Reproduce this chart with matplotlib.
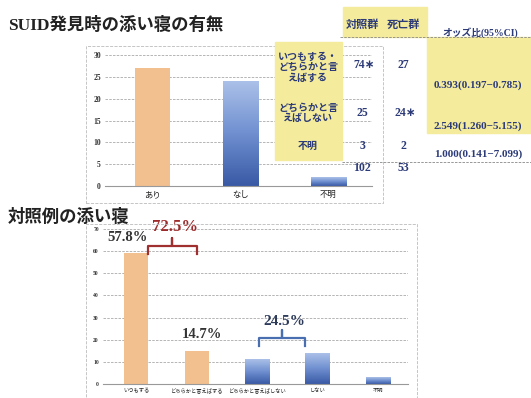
import numpy as np
import matplotlib
matplotlib.use("Agg")
import matplotlib.pyplot as plt
from matplotlib.patches import Rectangle
from matplotlib.colors import LinearSegmentedColormap

# Upper chart: bed sharing when the SUID case was found
presenceLabels = ["あり", "なし", "不明"]
presenceCounts = [27, 24, 2]

# Lower chart: bed sharing habit in the control group
habitLabels = ["いつもする", "どちらかと言えばする", "どちらかと言えばしない", "しない", "不明"]
habitCounts = [59, 15, 11, 14, 3]

# Table beside the upper chart
tableRows = ["いつもする・\nどちらかと言\nえばする", "どちらかと言\nえばしない", "不明"]
controlCounts = [74, 25, 3]
deathCounts = [27, 24, 2]
controlStar = [True, False, False]
deathStar = [False, True, False]
oddsRatios = ["0.393(0.197−0.785)", "2.549(1.260−5.155)", "1.000(0.141−7.099)"]

W, H = 531, 398
SERIF = ["Liberation Serif", "Noto Sans CJK JP", "DejaVu Sans"]
JP = ["Noto Sans CJK JP", "DejaVu Sans"]
NAVY = "#2c3a78"
YELLOW = "#f4ec9c"
ORANGE = "#f2c08f"
blueMap = LinearSegmentedColormap.from_list("bluebar", ["#aac0e8", "#6f8fd0", "#3a5aa6"])


def px(x, y):
	# pixel position -> figure fraction
	return x / W, 1 - y / H


def figBox(x0, y0, x1, y1, **kw):
	fx, fy = px(x0, y1)
	fig.patches.append(Rectangle((fx, fy), (x1 - x0) / W, (y1 - y0) / H,
		transform=fig.transFigure, **kw))


def figText(x, y, s, **kw):
	fx, fy = px(x, y)
	fig.text(fx, fy, s, **kw)


def gradientBar(ax, bar):
	x, y = bar.get_x(), bar.get_y()
	w, h = bar.get_width(), bar.get_height()
	grad = np.linspace(0, 1, 64).reshape(-1, 1)
	ax.imshow(grad, extent=(x, x + w, y, y + h), cmap=blueMap, aspect="auto",
		zorder=bar.get_zorder() + 0.1)


def setupAxes(ax, labels, ymax, step, ylabelSize, xlabelSize):
	ax.set_yticks(np.arange(0, ymax + 1, step))
	ax.set_xticks(range(len(labels)))
	ax.set_xticklabels(labels, fontsize=xlabelSize, family=JP, color="#222222")
	for t in ax.get_yticklabels():
		t.set_fontsize(ylabelSize)
		t.set_family(SERIF)
		t.set_weight("bold")
		t.set_color("#333333")
	ax.tick_params(length=0, pad=3)
	ax.yaxis.grid(True, ls=(0, (3, 1.5)), color="#aaaaaa", lw=0.6)
	ax.set_axisbelow(True)
	for side in ["top", "left", "right"]:
		ax.spines[side].set_visible(False)
	ax.spines["bottom"].set_color("#999999")
	ax.patch.set_alpha(0)


def drawBrace(ax, x0, x1, level, color):
	xm = (x0 + x1) / 2
	ax.plot([x0, x0, xm, xm, xm, x1, x1],
		[level - 3.5, level, level, level + 3.5, level, level, level - 3.5],
		color=color, lw=1.6, solid_joinstyle="round", clip_on=False)


fig = plt.figure(figsize=(W / 100, H / 100), dpi=100)

# chart frames
figBox(86, 46, 383, 203, fill=False, ls="--", lw=0.6, ec="#bbbbbb")
figBox(86, 224, 417, 400, fill=False, ls="--", lw=0.6, ec="#bbbbbb")

# ---- upper chart ----
ax1 = fig.add_axes([105 / W, 1 - 186 / H, 267 / W, 131 / H])
bars = ax1.bar(range(3), presenceCounts, width=0.4, color=[ORANGE, "#6f8fd0", "#6f8fd0"], zorder=2)
for b in bars[1:]:
	gradientBar(ax1, b)
setupAxes(ax1, presenceLabels, 30, 5, 5.5, 6)
ax1.set_xlim(-0.54, 2.5)
ax1.set_ylim(0, 30)

# ---- lower chart ----
ax2 = fig.add_axes([103 / W, 1 - 384 / H, 305 / W, 155 / H])
colors = [ORANGE, ORANGE, "#6f8fd0", "#6f8fd0", "#6f8fd0"]
bars = ax2.bar(range(5), habitCounts, width=0.4, color=colors, zorder=2)
for b in bars[2:]:
	gradientBar(ax2, b)
setupAxes(ax2, habitLabels, 70, 10, 4, 3.8)
ax2.set_xlim(-0.55, 4.5)
ax2.set_ylim(0, 70)

total = sum(habitCounts)
pct = [100 * c / total for c in habitCounts]
half = 0.2
ax2.text(-0.15, habitCounts[0] + 4, "%.1f%%" % pct[0], ha="center", va="bottom",
	fontsize=10.5, family=SERIF, weight="bold", color="#333333")
ax2.text(1.09, habitCounts[1] + 4.5, "%.1f%%" % pct[1], ha="center", va="bottom",
	fontsize=10.5, family=SERIF, weight="bold", color="#333333")

# brace over the "does" group and the "does not" group
drawBrace(ax2, 0 + half, 1, habitCounts[0] + 3.3, "#a03030")
ax2.text(0.64, habitCounts[0] + 8.5, "%.1f%%" % (pct[0] + pct[1]), ha="center", va="bottom",
	fontsize=12, family=SERIF, weight="bold", color="#9e2b2b", clip_on=False)
drawBrace(ax2, 2.03, 3 - half, max(habitCounts[2], habitCounts[3]) + 6.8, "#4a6fb0")
ax2.text(2.45, max(habitCounts[2], habitCounts[3]) + 11.5, "%.1f%%" % (pct[2] + pct[3]),
	ha="center", va="bottom", fontsize=11, family=SERIF, weight="bold", color="#2d3a5a")

# ---- titles ----
figText(8, 25, "SUID発見時の添い寝の有無", fontsize=12.5, weight="bold", family=SERIF,
	va="center", color="#222222")
figText(8, 217, "対照例の添い寝", fontsize=12.5, weight="bold", family=JP,
	va="center", color="#222222")

# ---- table ----
figBox(343, 7, 427, 37, color=YELLOW, zorder=1)
figBox(275, 42, 342, 160, color=YELLOW, zorder=1)
figBox(427, 37, 531, 133, color=YELLOW, zorder=1)
fig.lines.append(plt.Line2D([340 / W, 1], [1 - 37 / H] * 2, transform=fig.transFigure,
	ls=(0, (3, 1.5)), lw=0.6, color="#888888"))
fig.lines.append(plt.Line2D([342 / W, 1], [1 - 162 / H] * 2, transform=fig.transFigure,
	ls=(0, (3, 1.5)), lw=0.6, color="#888888"))

tableFont = dict(ha="center", va="center", color=NAVY, weight="bold", zorder=3)
figText(362, 24, "対照群", fontsize=8, family=JP, **tableFont)
figText(403, 24, "死亡群", fontsize=8, family=JP, **tableFont)
figText(480, 33, "オッズ比(95%CI)", fontsize=7, family=SERIF, **tableFont)

rowY = [67, 113, 146]
valueY = [65, 113, 146]
oddsY = [85, 126, 154]
for i in range(3):
	figText(308, rowY[i], tableRows[i], fontsize=7.2, family=JP, linespacing=1.05, **tableFont)
	c = str(controlCounts[i]) + ("∗" if controlStar[i] else "")
	d = str(deathCounts[i]) + ("∗" if deathStar[i] else "")
	figText(364 if controlStar[i] else 362, valueY[i], c, fontsize=8.5, family=SERIF, **tableFont)
	figText(405 if deathStar[i] else 403, valueY[i], d, fontsize=8.5, family=SERIF, **tableFont)
	figText(478, oddsY[i], oddsRatios[i], fontsize=8, family=SERIF, **tableFont)
figText(362, 168, str(sum(controlCounts)), fontsize=8.5, family=SERIF, **tableFont)
figText(403, 168, str(sum(deathCounts)), fontsize=8.5, family=SERIF, **tableFont)

fig.savefig("out.png", dpi=100)
